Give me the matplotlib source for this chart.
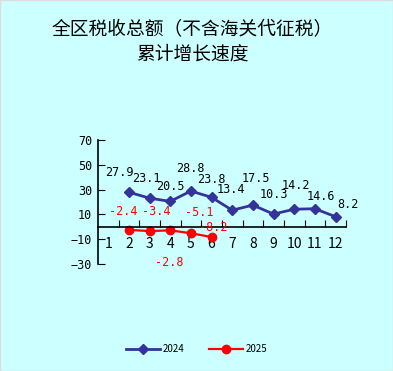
import matplotlib
matplotlib.use("Agg")
import matplotlib.pyplot as plt

plt.rcParams['font.family'] = ['Noto Sans CJK SC', 'DejaVu Sans']

months = list(range(1, 13))
months_2024 = [2, 3, 4, 5, 6, 7, 8, 9, 10, 11, 12]
growth_2024 = [27.9, 23.1, 20.5, 28.8, 23.8, 13.4, 17.5, 10.3, 14.2, 14.6, 8.2]
months_2025 = [2, 3, 4, 5, 6]
growth_2025 = [-2.4, -3.4, -2.8, -5.1, -8.2]

# where each value label sits relative to its point (offset in points, style only)
label_off_2024 = [(-7, 14), (-2, 14), (0, 11), (0, 16), (0, 13), (-1, 15),
                  (2, 19), (0, 14), (1, 17), (4, 9), (9, 9)]
label_off_2025 = [(-4, 13), (5, 14), (-1, -23), (6, 15), (1, 7)]

title = "全区税收总额（不含海关代征税）\n累计增长速度"
bg = "#ccffff"

fig = plt.figure(figsize=(3.93, 3.71), dpi=100, facecolor=bg)
ax = fig.add_axes([0.249, 0.288, 0.631, 0.335])
ax.set_facecolor(bg)

ax.plot(months_2024, growth_2024, color="#333399", lw=2, marker="D",
        markersize=5.5, label="2024")
ax.plot(months_2025, growth_2025, color="red", lw=1.6, marker="o",
        markersize=6, label="2025")

mono = "DejaVu Sans Mono"
for x, y, off in zip(months_2024, growth_2024, label_off_2024):
    ax.annotate("%.1f" % y, (x, y), xytext=off, textcoords="offset points",
                ha="center", va="center", fontsize=8.5, family=mono)
for x, y, off in zip(months_2025, growth_2025, label_off_2025):
    ax.annotate("%.1f" % y, (x, y), xytext=off, textcoords="offset points",
                ha="center", va="center", fontsize=8.5, family=mono, color="red")

ax.set_xlim(0.5, 12.5)
ax.set_ylim(-30, 70)
ax.set_yticks([-30, -10, 10, 30, 50, 70])
ax.set_xticks([m + 0.5 for m in months[:-1]] + [12.5])
ax.set_xticklabels([])
ax.set_xticks(months, minor=True)
ax.set_xticklabels([str(m) for m in months], minor=True, family=mono, fontsize=8.5)
ax.tick_params(axis="x", which="major", direction="in", length=5, color="black")
ax.tick_params(axis="x", which="minor", length=0, pad=7)
ax.tick_params(axis="y", direction="in", length=5, labelsize=8.5, pad=4)
for lbl in ax.get_yticklabels():
    lbl.set_family(mono)

ax.spines["top"].set_visible(False)
ax.spines["right"].set_visible(False)
ax.spines["bottom"].set_position(("data", 0))
ax.spines["left"].set_linewidth(1.2)
ax.spines["bottom"].set_linewidth(1.2)

fig.text(0.49, 0.888, title, ha="center", va="center", fontsize=13.5,
         linespacing=1.2)

fig.legend(loc="center", bbox_to_anchor=(0.5, 0.058), ncol=2, frameon=False,
           fontsize=7, handlelength=3.5, columnspacing=2.5, handletextpad=0.3)

fig.patches.append(plt.Rectangle((0, 0), 1, 1, transform=fig.transFigure,
                                 fill=False, edgecolor="#dddddd", lw=1))
fig.savefig("out.png", dpi=100, facecolor=bg)
